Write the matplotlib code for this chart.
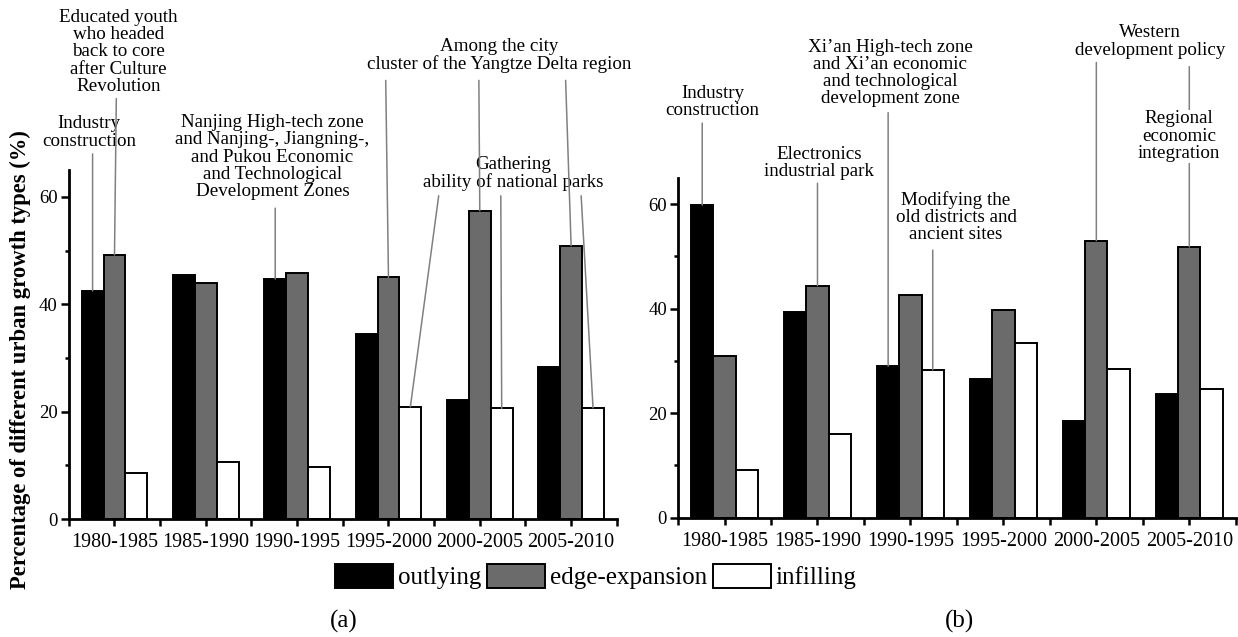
import numpy as np
import matplotlib
matplotlib.use("Agg")
import matplotlib.pyplot as plt
from matplotlib.patches import Patch

plt.rcParams['font.family'] = ['Liberation Serif', 'DejaVu Serif']

periods = ['1980-1985', '1985-1990', '1990-1995', '1995-2000', '2000-2005', '2005-2010']

# (a) Nanjing
outlying_a = [42.5, 45.4, 44.7, 34.5, 22.2, 28.4]
edge_a = [49.2, 43.9, 45.8, 45.0, 57.4, 50.9]
infill_a = [8.5, 10.7, 9.6, 20.9, 20.6, 20.7]

# (b) Xi'an
outlying_b = [59.8, 39.4, 29.0, 26.6, 18.5, 23.6]
edge_b = [30.9, 44.4, 42.6, 39.8, 53.0, 51.8]
infill_b = [9.1, 16.0, 28.3, 33.4, 28.4, 24.6]

colors = ['#000000', '#6b6b6b', '#ffffff']
names = ['outlying', 'edge-expansion', 'infilling']
w = 0.24
line_col = '#808080'

fig = plt.figure(figsize=(12.38, 6.37), dpi=100)
ax1 = fig.add_axes([0.0556, 0.1852, 0.4426, 0.5479])
ax2 = fig.add_axes([0.5477, 0.1873, 0.4505, 0.5333])


def draw_panel(ax, series):
    x = np.arange(len(periods))
    for i, vals in enumerate(series):
        ax.bar(x + (i - 1) * w, vals, w, color=colors[i], edgecolor='black',
               linewidth=1.4, zorder=2)
    ax.set_xlim(-0.5, 5.5)
    ax.set_ylim(0, 65)
    ax.set_xticks(x)
    ax.set_xticks(np.arange(-0.5, 6, 1.0), minor=True)
    ax.set_xticklabels(periods, fontsize=14.5)
    ax.set_yticks([0, 20, 40, 60])
    ax.set_yticks([10, 30, 50], minor=True)
    ax.tick_params(axis='y', labelsize=13.5, width=1.8, length=6, direction='out', pad=2)
    ax.tick_params(axis='y', which='minor', width=1.8, length=3)
    ax.tick_params(axis='x', which='both', width=1.8, length=5, direction='out', pad=5)
    for s in ['top', 'right']:
        ax.spines[s].set_visible(False)
    for s in ['left', 'bottom']:
        ax.spines[s].set_linewidth(2.0)


def note(ax, text, xy_text, starts, ends, box=False, fs=13.7):
    for s, e in zip(starts, ends):
        ax.annotate('', xy=e, xytext=s, annotation_clip=False,
                    arrowprops=dict(arrowstyle='-', color=line_col, lw=1.1,
                                    shrinkA=0, shrinkB=0), zorder=3)
    kw = {}
    if box:
        kw['bbox'] = dict(facecolor='white', edgecolor='none', pad=0.5)
    ax.text(xy_text[0], xy_text[1], text, ha='center', va='center', fontsize=fs,
            linespacing=1.02, clip_on=False, zorder=4 if box else 2, **kw)


draw_panel(ax1, [outlying_a, edge_a, infill_a])
draw_panel(ax2, [outlying_b, edge_b, infill_b])

# annotations (a)
note(ax1, 'Industry\nconstruction', (-0.28, 72.0), [(-w, 68.0)], [(-w, outlying_a[0])])
note(ax1, 'Educated youth\nwho headed\nback to core\nafter Culture\nRevolution', (0.045, 87.0),
     [(0.02, 78.3)], [(0, edge_a[0])])
note(ax1, 'Nanjing High-tech zone\nand Nanjing-, Jiangning-,\nand Pukou Economic\nand Technological\nDevelopment Zones',
     (1.73, 67.4), [(2 - w, 57.9)], [(2 - w, outlying_a[2])])
note(ax1, 'Among the city\ncluster of the Yangtze Delta region', (4.21, 86.4),
     [(2.97, 81.7), (3.99, 81.7), (4.94, 81.7)],
     [(3, edge_a[3]), (4, edge_a[4]), (5, edge_a[5])])
note(ax1, 'Gathering\nability of national parks', (4.37, 64.4),
     [(3.55, 60.2), (4.23, 60.2), (5.11, 60.2)],
     [(3 + w, infill_a[3]), (4 + w, infill_a[4]), (5 + w, infill_a[5])])

# annotations (b)
note(ax2, 'Industry\nconstruction', (-0.13, 79.6), [(-w, 75.5)], [(-w, outlying_b[0])])
note(ax2, 'Electronics\nindustrial park', (1.02, 67.9), [(1.0, 64.0)], [(1.0, edge_b[1])])
note(ax2, 'Xi\u2019an High-tech zone\nand Xi\u2019an economic\nand technological\ndevelopment zone',
     (1.78, 85.1), [(2 - w, 77.5)], [(2 - w, outlying_b[2])])
note(ax2, 'Modifying the\nold districts and\nancient sites', (2.49, 57.5),
     [(2 + w, 51.2)], [(2 + w, infill_b[2])])
note(ax2, 'Western\ndevelopment policy', (4.58, 91.1), [(4.0, 87.1)], [(4.0, edge_b[4])])
note(ax2, 'Regional\neconomic\nintegration', (4.89, 73.0), [(5.0, 86.3)], [(5.0, edge_b[5])], box=True)

fig.text(0.0162, 0.436, 'Percentage of different urban growth types (%)', rotation=90,
         ha='center', va='center', fontsize=16.3, fontweight='bold')

handles = [Patch(facecolor=c, edgecolor='black', linewidth=1.4) for c in colors]
fig.legend(handles, names, loc='center', bbox_to_anchor=(0.4814, 0.095), ncol=3,
           frameon=False, fontsize=18, handlelength=2.3, handleheight=1.15,
           handletextpad=0.2, columnspacing=0.25, borderpad=0.2)

fig.text(0.278, 0.025, '(a)', ha='center', va='center', fontsize=18)
fig.text(0.775, 0.025, '(b)', ha='center', va='center', fontsize=18)

fig.savefig('out.png', dpi=100)
